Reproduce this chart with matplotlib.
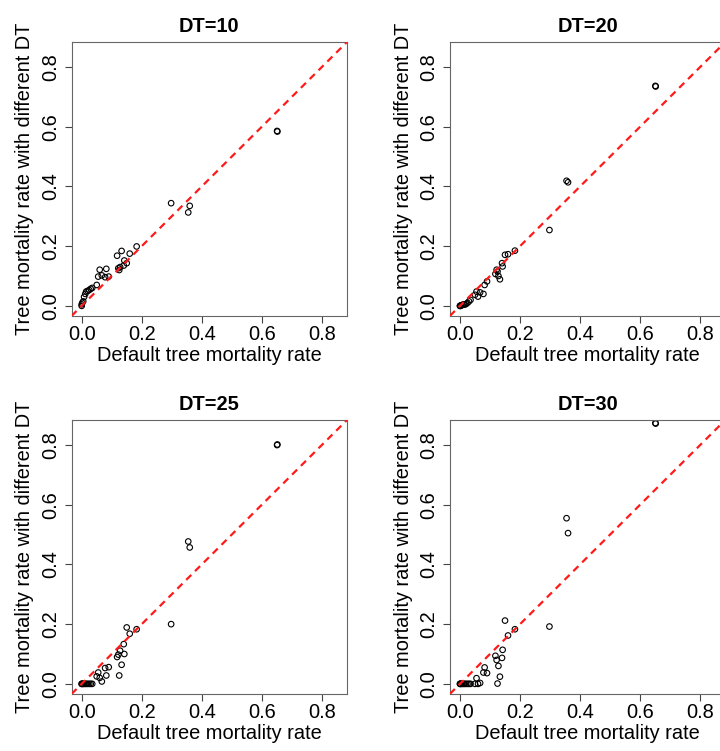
import numpy as np
import matplotlib
matplotlib.use("Agg")
import matplotlib.pyplot as plt

plt.rcParams['font.family'] = ['Liberation Sans', 'DejaVu Sans']

# default tree mortality rate (same sites in every panel)
default_rate = [0.0, 0.0, 0.002, 0.005, 0.008, 0.012, 0.015, 0.02, 0.025, 0.03,
                0.035, 0.05, 0.055, 0.06, 0.067, 0.078, 0.082, 0.09, 0.118, 0.122,
                0.125, 0.128, 0.133, 0.14, 0.142, 0.15, 0.16, 0.183, 0.298, 0.355,
                0.36, 0.651, 0.652]

dt10 = [0.0, 0.005, 0.01, 0.015, 0.03, 0.04, 0.048, 0.05, 0.053, 0.057,
        0.06, 0.07, 0.098, 0.121, 0.102, 0.096, 0.124, 0.098, 0.168, 0.126,
        0.12, 0.13, 0.184, 0.135, 0.152, 0.143, 0.175, 0.199, 0.344, 0.313,
        0.335, 0.586, 0.584]

dt20 = [0.0, 0.0, 0.0, 0.002, 0.003, 0.005, 0.004, 0.006, 0.01, 0.015,
        0.02, 0.037, 0.048, 0.031, 0.045, 0.04, 0.07, 0.082, 0.107, 0.121,
        0.115, 0.1, 0.089, 0.143, 0.132, 0.171, 0.173, 0.185, 0.254, 0.419,
        0.414, 0.737, 0.735]

dt25 = [0.0, 0.0, 0.0, 0.0, 0.0, 0.0, 0.0, 0.0, 0.0, 0.0,
        0.0, 0.025, 0.038, 0.02, 0.008, 0.053, 0.028, 0.056, 0.09, 0.098,
        0.028, 0.111, 0.064, 0.133, 0.1, 0.189, 0.168, 0.183, 0.2, 0.477,
        0.457, 0.80, 0.802]

dt30 = [0.0, 0.0, 0.0, 0.0, 0.0, 0.0, 0.0, 0.0, 0.0, 0.0,
        0.0, 0.0, 0.019, 0.0, 0.003, 0.038, 0.055, 0.036, 0.094, 0.08,
        0.001, 0.06, 0.024, 0.087, 0.114, 0.212, 0.162, 0.183, 0.192, 0.555,
        0.505, 0.874, 0.872]

panels = [("DT=10", dt10), ("DT=20", dt20), ("DT=25", dt25), ("DT=30", dt30)]

W, H = 720, 751
fig = plt.figure(figsize=(7.2, 7.51), dpi=100)

lefts = [71.5, 449.8]
tops = [42.0, 420.0]
aw, ah = 275.5, 274.0

lim = (-0.034, 0.884)
for i, (title, yvals) in enumerate(panels):
    r, c = divmod(i, 2)
    ax = fig.add_axes([lefts[c] / W, 1 - (tops[r] + ah) / H, aw / W, ah / H])
    ax.scatter(default_rate, yvals, s=16, facecolors='none',
               edgecolors='black', linewidths=0.8, zorder=2)
    ax.axline((0, 0), slope=1, color='#ff1a1a', lw=1.6,
              linestyle=(0, (3.2, 2.4)), zorder=3)
    ax.set_xlim(lim)
    ax.set_ylim(lim)
    ticks = [0.0, 0.2, 0.4, 0.6, 0.8]
    ax.set_xticks(ticks)
    ax.set_yticks(ticks)
    ax.set_xticklabels([f"{t:.1f}" for t in ticks])
    ax.set_yticklabels([f"{t:.1f}" for t in ticks], rotation=90, va='center')
    ax.tick_params(direction='out', length=5, width=0.8, labelsize=14.4,
                   color='#444444')
    ax.tick_params(axis='x', pad=1.5)
    ax.tick_params(axis='y', pad=3)
    for sp in ax.spines.values():
        sp.set_linewidth(0.8)
        sp.set_color('#666666')
    ax.set_title(title, fontsize=14.4, fontweight='bold', pad=7)
    ax.set_xlabel("Default tree mortality rate", fontsize=14.4, labelpad=1.5)
    ax.set_ylabel("Tree mortality rate with different DT", fontsize=14.4,
                  labelpad=5)

fig.savefig("out.png", dpi=100)
